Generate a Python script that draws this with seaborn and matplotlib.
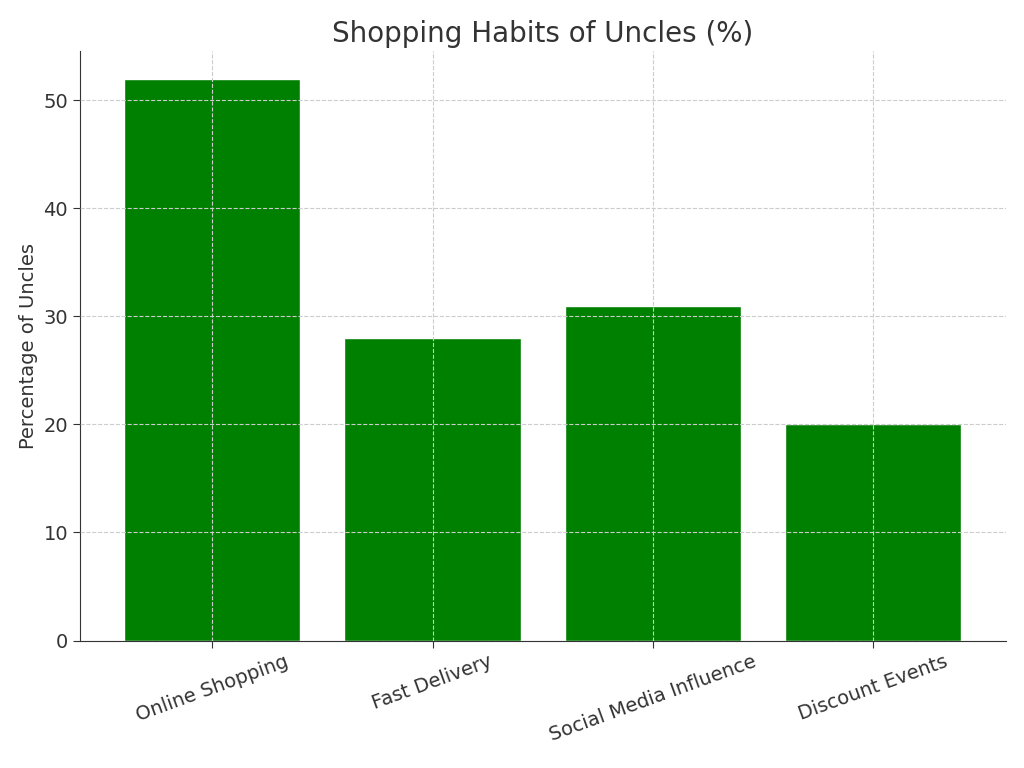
import matplotlib
matplotlib.use("Agg")
import matplotlib.pyplot as plt
import seaborn as sns
import pandas as pd

categories = ["Online Shopping", "Fast Delivery", "Social Media Influence", "Discount Events"]
values = [52, 28, 31, 20]

sns.set_style("white")
plt.rcParams['font.family'] = ['DejaVu Sans']
plt.rcParams['text.color'] = '#333333'
plt.rcParams['axes.labelcolor'] = '#333333'
plt.rcParams['xtick.color'] = '#333333'
plt.rcParams['ytick.color'] = '#333333'

df = pd.DataFrame({"cat": categories, "val": values})
fig = plt.figure(figsize=(10.24, 7.68), dpi=100)
ax = fig.add_axes([0.078, 0.166, 0.904, 0.768])
sns.barplot(data=df, x="cat", y="val", color="#008000", saturation=1, width=0.8, ax=ax)
ax.set_axisbelow(False)
ax.grid(True, linestyle="--", color="#cccccc", linewidth=0.8)
ax.set_title("Shopping Habits of Uncles (%)", fontsize=20)
ax.set_xlabel("")
ax.set_ylabel("Percentage of Uncles", fontsize=14)
ax.tick_params(axis='both', labelsize=14, length=5, left=True, bottom=True)
plt.setp(ax.get_xticklabels(), rotation=20)
ax.set_ylim(0, 54.6)
ax.set_xlim(-0.6, 3.6)
for s in ["top", "right"]:
    ax.spines[s].set_visible(False)
for s in ["left", "bottom"]:
    ax.spines[s].set_color("#333333")
fig.savefig("out.png", dpi=100)
